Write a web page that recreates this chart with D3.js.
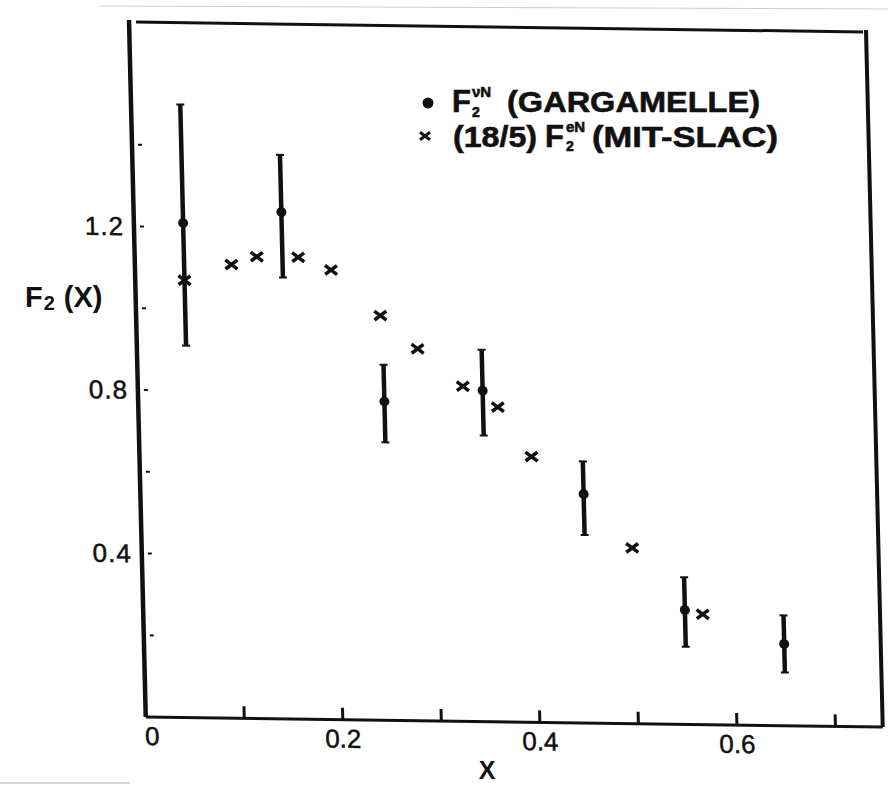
<!DOCTYPE html>
<html>
<head>
<meta charset="utf-8">
<script src="https://cdn.jsdelivr.net/npm/d3@7"></script>
<style>
  body { margin: 0; background: #fff; }
  text { font-family: "Liberation Sans", Arial, sans-serif; fill: #111; }
</style>
</head>
<body>
<div class="chart"></div>
<script>
// Gargamelle F2 (nu N) points with error bars
const gargX  = [0.05, 0.15, 0.25, 0.35, 0.45, 0.55, 0.65];
const gargY  = [1.21, 1.24, 0.78, 0.81, 0.56, 0.28, 0.20];
const gargHi = [1.50, 1.38, 0.87, 0.91, 0.64, 0.36, 0.27];
const gargLo = [0.91, 1.08, 0.68, 0.70, 0.46, 0.19, 0.13];
// MIT-SLAC (18/5) F2 (eN) points
const slacX = [0.050, 0.098, 0.124, 0.166, 0.199, 0.248, 0.285, 0.330, 0.365, 0.398, 0.498, 0.568];
const slacY = [1.07, 1.11, 1.13, 1.13, 1.10, 0.99, 0.91, 0.82, 0.77, 0.65, 0.43, 0.27];
// axes
const xTicks = [0.1, 0.2, 0.3, 0.4, 0.5, 0.6, 0.7];
const xLabels = [0, 0.2, 0.4, 0.6];
const yTicks = [0.2, 0.4, 0.6, 0.8, 1.0, 1.2, 1.4];
const yLabels = [0.4, 0.8, 1.2];

var width = 888
var height = 785
var w = 737, h = 697
var ink = "#111"

var svg = d3.select(".chart")
  .append("svg")
  .attr("width", width)
  .attr("height", height)

// faint scan edges
svg.append("line").attr("x1", 100).attr("y1", 6).attr("x2", 888).attr("y2", 9)
  .attr("stroke", "#ccc").attr("stroke-width", 1)
svg.append("line").attr("x1", 0).attr("y1", 783).attr("x2", 130).attr("y2", 783)
  .attr("stroke", "#ccc").attr("stroke-width", 1.5)

// the scanned figure is slightly skewed
var g = svg.append("g")
  .attr("transform", "matrix(1,0.0136,0.024,1,129,20)")

var x = d3.scaleLinear().domain([0, 0.748]).range([0, w])
var y = d3.scaleLinear().domain([0, 1.705]).range([h, 0])

// frame
g.append("line").attr("x1", 0).attr("y1", 0).attr("x2", 0).attr("y2", h)
  .attr("stroke", ink).attr("stroke-width", 4.5)
g.append("line").attr("x1", 7).attr("y1", 2).attr("x2", w - 3).attr("y2", 2)
  .attr("stroke", ink).attr("stroke-width", 3)
g.append("line").attr("x1", w).attr("y1", 0).attr("x2", w).attr("y2", h)
  .attr("stroke", ink).attr("stroke-width", 4)
g.append("line").attr("x1", 0).attr("y1", h).attr("x2", w).attr("y2", h)
  .attr("stroke", ink).attr("stroke-width", 3)

// x ticks (inward)
g.selectAll(".xt").data(xTicks).enter().append("line")
  .attr("x1", d => x(d)).attr("x2", d => x(d))
  .attr("y1", h).attr("y2", h - 12)
  .attr("stroke", ink).attr("stroke-width", 3)

g.selectAll(".xl").data(xLabels).enter().append("text")
  .attr("x", d => x(d) + (d === 0 ? 6 : 0))
  .attr("y", h + 28)
  .attr("text-anchor", "middle")
  .attr("font-size", 26)
  .attr("stroke", ink).attr("stroke-width", 0.5)
  .text(d => d === 0 ? "0" : d3.format(".1f")(d))

// y ticks: small dashes off the axis
g.selectAll(".yt").data(yTicks).enter().append("line")
  .attr("x1", 6).attr("x2", 10)
  .attr("y1", d => y(d)).attr("y2", d => y(d))
  .attr("stroke", ink).attr("stroke-width", 2)

g.selectAll(".yl").data(yLabels).enter().append("text")
  .attr("x", -10)
  .attr("y", d => y(d) + 9)
  .attr("text-anchor", "end")
  .attr("font-size", 26)
  .attr("letter-spacing", 1)
  .attr("stroke", ink).attr("stroke-width", 0.5)
  .text(d => d3.format(".1f")(d))

// Gargamelle error bars
var garg = gargX.map((d, i) => ({x: d, y: gargY[i], hi: gargHi[i], lo: gargLo[i]}))
g.selectAll(".eb").data(garg).enter().append("line")
  .attr("x1", d => x(d.x)).attr("x2", d => x(d.x))
  .attr("y1", d => y(d.hi)).attr("y2", d => y(d.lo))
  .attr("stroke", ink).attr("stroke-width", 4.5)
g.selectAll(".capHi").data(garg).enter().append("line")
  .attr("x1", d => x(d.x) - 4).attr("x2", d => x(d.x) + 4)
  .attr("y1", d => y(d.hi)).attr("y2", d => y(d.hi))
  .attr("stroke", ink).attr("stroke-width", 2)
g.selectAll(".capLo").data(garg).enter().append("line")
  .attr("x1", d => x(d.x) - 4).attr("x2", d => x(d.x) + 4)
  .attr("y1", d => y(d.lo)).attr("y2", d => y(d.lo))
  .attr("stroke", ink).attr("stroke-width", 2)
g.selectAll(".dot").data(garg).enter().append("circle")
  .attr("cx", d => x(d.x)).attr("cy", d => y(d.y))
  .attr("r", 5).attr("fill", ink)

// MIT-SLAC crosses
var slac = slacX.map((d, i) => ({x: d, y: slacY[i]}))
function cross(cx, cy, s) {
  return "M" + (cx - s) + "," + (cy - s * 0.75) + "L" + (cx + s) + "," + (cy + s * 0.75) +
         "M" + (cx - s) + "," + (cy + s * 0.75) + "L" + (cx + s) + "," + (cy - s * 0.75)
}
g.selectAll(".cr").data(slac).enter().append("path")
  .attr("d", d => cross(x(d.x), y(d.y), 6))
  .attr("stroke", ink).attr("stroke-width", 3.5).attr("fill", "none")

// axis titles
var yt = svg.append("text").attr("x", 25).attr("y", 307)
  .attr("font-size", 29).attr("font-weight", "bold")
yt.append("tspan").text("F")
yt.append("tspan").attr("font-size", 20).attr("dy", 3).attr("dx", 1).text("2")
yt.append("tspan").attr("dy", -3).attr("dx", 9).text("(X)")

svg.append("text").attr("x", 487).attr("y", 779)
  .attr("text-anchor", "middle").attr("font-size", 25).attr("font-weight", "bold")
  .text("X")

// legend
function legendText(tx, ty, str, size, len) {
  var t = svg.append("text").attr("x", tx).attr("y", ty)
    .attr("font-size", size).attr("font-weight", "bold")
    .attr("stroke", ink).attr("stroke-width", 0.6)
    .text(str)
  if (len) t.attr("textLength", len).attr("lengthAdjust", "spacingAndGlyphs")
  return t
}
svg.append("circle").attr("cx", 428).attr("cy", 103).attr("r", 5.5).attr("fill", ink)
legendText(452, 112, "F", 31)
legendText(472, 97, "νN", 15)
legendText(472, 116.5, "2", 14)
legendText(507, 112, "(GARGAMELLE)", 30, 253)

svg.append("path").attr("d", cross(425, 136, 5))
  .attr("stroke", ink).attr("stroke-width", 3).attr("fill", "none")
legendText(453, 147, "(18/5)", 30, 84)
legendText(545, 147, "F", 31)
legendText(566, 132, "eN", 15)
legendText(566, 151, "2", 14)
legendText(592, 147, "(MIT-SLAC)", 30, 186)
</script>
</body>
</html>
